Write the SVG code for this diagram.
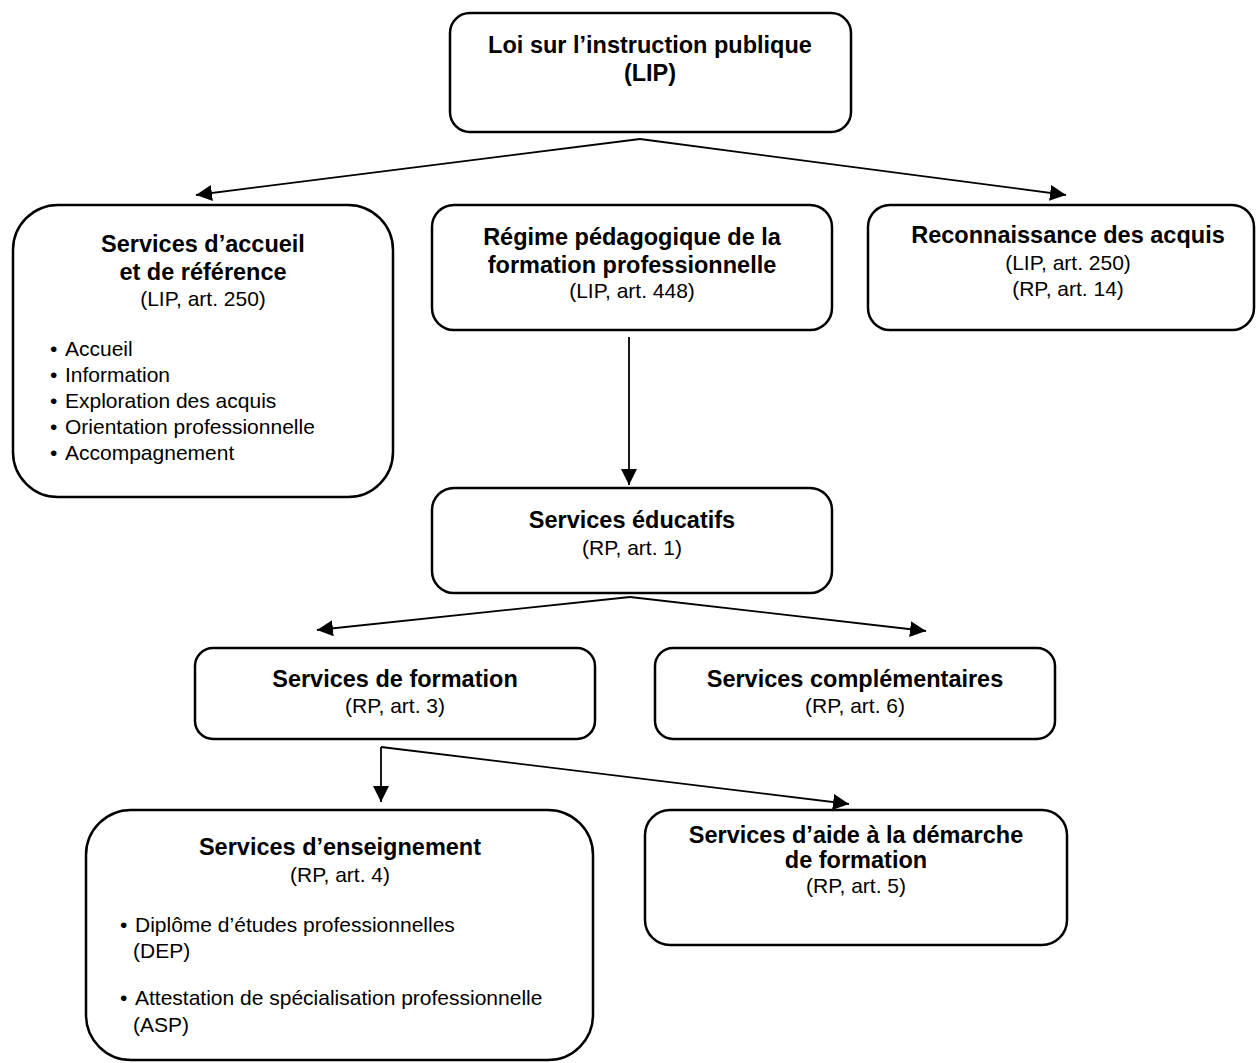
<svg xmlns="http://www.w3.org/2000/svg" width="1256" height="1063" viewBox="0 0 1256 1063">
<defs>
<marker id="ah" markerUnits="userSpaceOnUse" markerWidth="18" markerHeight="16" refX="16" refY="8" orient="auto">
<path d="M0,0 L16,8 L0,16 Z" fill="#000"/>
</marker>
<style>
.box{fill:#fff;stroke:#000;stroke-width:2.5}
.b{font-family:"Liberation Sans",Arial,sans-serif;font-weight:bold;font-size:23.5px;fill:#000;text-anchor:middle}
.r{font-family:"Liberation Sans",Arial,sans-serif;font-size:21px;fill:#000;text-anchor:middle}
.l{font-family:"Liberation Sans",Arial,sans-serif;font-size:21px;fill:#000}
.c{fill:none;stroke:#000;stroke-width:1.8}
</style>
</defs>
<rect width="1256" height="1063" fill="#fff"/>
<g id="connectors">
<line class="c" x1="640" y1="139" x2="196" y2="195" marker-end="url(#ah)"/>
<line class="c" x1="640" y1="139" x2="1066" y2="195" marker-end="url(#ah)"/>
<line class="c" x1="629" y1="337" x2="629" y2="485" marker-end="url(#ah)"/>
<line class="c" x1="630" y1="597" x2="317" y2="630" marker-end="url(#ah)"/>
<line class="c" x1="630" y1="597" x2="926" y2="631" marker-end="url(#ah)"/>
<line class="c" x1="381" y1="747" x2="381" y2="802" marker-end="url(#ah)"/>
<line class="c" x1="381" y1="747" x2="849" y2="804" marker-end="url(#ah)"/>
</g>
<g id="lip">
<rect class="box" x="450" y="13" width="401" height="119" rx="20"/>
<text class="b" x="650" y="53">Loi sur l’instruction publique</text>
<text class="b" x="650" y="81">(LIP)</text>
</g>
<g id="accueil">
<rect class="box" x="13" y="205" width="380" height="292" rx="45"/>
<text class="b" x="203" y="252">Services d’accueil</text>
<text class="b" x="203" y="280">et de référence</text>
<text class="r" x="203" y="306">(LIP, art. 250)</text>
<text class="l" x="50" y="356">•<tspan x="65">Accueil</tspan></text>
<text class="l" x="50" y="382">•<tspan x="65">Information</tspan></text>
<text class="l" x="50" y="408">•<tspan x="65">Exploration des acquis</tspan></text>
<text class="l" x="50" y="434">•<tspan x="65">Orientation professionnelle</tspan></text>
<text class="l" x="50" y="460">•<tspan x="65">Accompagnement</tspan></text>
</g>
<g id="regime">
<rect class="box" x="432" y="205" width="400" height="125" rx="22"/>
<text class="b" x="632" y="245">Régime pédagogique de la</text>
<text class="b" x="632" y="273">formation professionnelle</text>
<text class="r" x="632" y="298">(LIP, art. 448)</text>
</g>
<g id="reconnaissance">
<rect class="box" x="868" y="205" width="386" height="125" rx="22"/>
<text class="b" x="1068" y="243">Reconnaissance des acquis</text>
<text class="r" x="1068" y="270">(LIP, art. 250)</text>
<text class="r" x="1068" y="296">(RP, art. 14)</text>
</g>
<g id="educatifs">
<rect class="box" x="432" y="488" width="400" height="105" rx="22"/>
<text class="b" x="632" y="528">Services éducatifs</text>
<text class="r" x="632" y="555">(RP, art. 1)</text>
</g>
<g id="formation">
<rect class="box" x="195" y="648" width="400" height="91" rx="18"/>
<text class="b" x="395" y="687">Services de formation</text>
<text class="r" x="395" y="713">(RP, art. 3)</text>
</g>
<g id="complementaires">
<rect class="box" x="655" y="648" width="400" height="91" rx="18"/>
<text class="b" x="855" y="687">Services complémentaires</text>
<text class="r" x="855" y="713">(RP, art. 6)</text>
</g>
<g id="enseignement">
<rect class="box" x="86" y="810" width="507" height="250" rx="45"/>
<text class="b" x="340" y="855">Services d’enseignement</text>
<text class="r" x="340" y="882">(RP, art. 4)</text>
<text class="l" x="120" y="932">•<tspan x="135">Diplôme d’études professionnelles</tspan></text>
<text class="l" x="133" y="958">(DEP)</text>
<text class="l" x="120" y="1005">•<tspan x="135">Attestation de spécialisation professionnelle</tspan></text>
<text class="l" x="133" y="1032">(ASP)</text>
</g>
<g id="aide">
<rect class="box" x="645" y="810" width="422" height="135" rx="25"/>
<text class="b" x="856" y="843">Services d’aide à la démarche</text>
<text class="b" x="856" y="868">de formation</text>
<text class="r" x="856" y="893">(RP, art. 5)</text>
</g>
</svg>
